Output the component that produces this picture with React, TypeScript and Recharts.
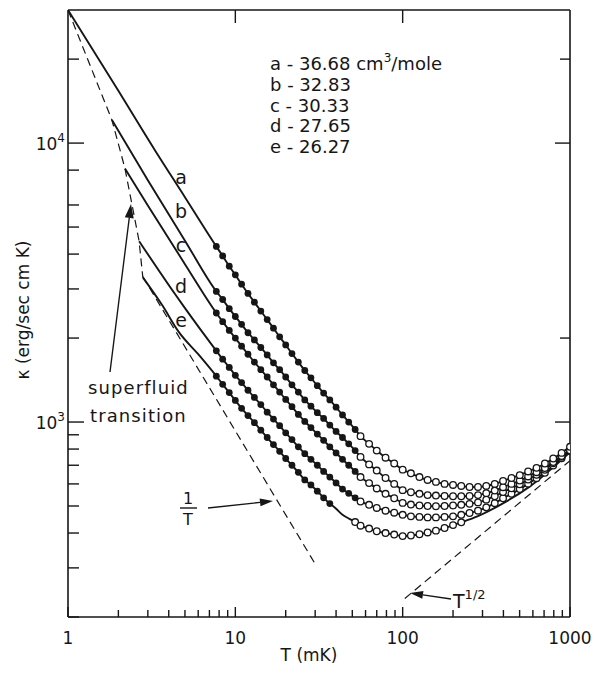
import React from "react";
import { ComposedChart, Line, XAxis, YAxis } from "recharts";

// temperature grids (mK) where the measured points sit
const filledT = [7.7, 8.4, 9.2, 10, 10.9, 11.9, 13, 14.2, 15.5, 16.9, 18.4, 20, 21.8, 23.8, 26, 28.3, 30.9, 33.7, 36.7, 40, 43.7, 47.6, 52];
const openT = [56, 63, 70, 79, 89, 100, 112, 126, 141, 158, 178, 200, 224, 251, 282, 316, 355, 398, 447, 501, 562, 631, 708, 794, 891, 1000];

// curve a - 36.68 cm3/mole
const aLine = [[1, 30000], [2, 15400], [3.3, 9450], [5, 6400]];
const aFilled = [4260, 3940, 3620, 3370, 3120, 2890, 2690, 2500, 2330, 2170, 2020, 1890, 1760, 1640, 1530, 1440, 1350, 1270, 1200, 1130, 1060, 1000, 940];
const aOpen = [890, 835, 790, 745, 710, 675, 655, 635, 620, 610, 600, 595, 590, 585, 585, 590, 600, 615, 630, 645, 665, 685, 710, 740, 775, 815];

// curve b - 32.83
const bLine = [[1.83, 12100], [3, 7360], [5, 4470]];
const bFilled = [2940, 2750, 2550, 2390, 2240, 2090, 1970, 1850, 1740, 1630, 1540, 1450, 1360, 1280, 1200, 1140, 1080, 1030, 975, 925, 880, 835, 790];
const bOpen = [750, 705, 670, 630, 600, 570, 560, 553, 547, 545, 543, 542, 542, 543, 547, 556, 568, 584, 600, 617, 638, 661, 684, 719, 755, 792];

// curve c - 30.33
const cLine = [[2.19, 8110], [3, 5980], [5, 3680]];
const cFilled = [2460, 2290, 2130, 2000, 1870, 1750, 1640, 1540, 1450, 1360, 1280, 1205, 1135, 1065, 1005, 955, 905, 860, 815, 775, 735, 700, 665];
const cOpen = [635, 604, 578, 553, 533, 513, 506, 502, 500, 499, 500, 502, 505, 509, 515, 527, 542, 561, 579, 598, 622, 647, 674, 711, 751, 792];

// curve d - 27.65
const dLine = [[2.66, 4450], [4.37, 2870], [5, 2560]];
const dFilled = [1800, 1680, 1570, 1470, 1385, 1300, 1225, 1155, 1085, 1025, 970, 915, 865, 815, 770, 735, 700, 665, 635, 605, 575, 555, 535];
const dOpen = [519, 505, 492, 481, 473, 465, 459, 457, 455, 455, 457, 459, 465, 472, 481, 494, 512, 533, 553, 575, 601, 629, 658, 698, 741, 787];

// curve e - 26.27
const eLine = [[2.8, 3300], [3.66, 2620], [4.6, 2100], [6, 1750]];
const eFilled = [1460, 1365, 1275, 1195, 1120, 1055, 995, 935, 880, 830, 785, 740, 700, 660, 620, 595, 565, 535, 510];
const eMid = [[40, 489], [43.7, 465], [47.6, 451]];
const eOpenT = [52, 56, 63, 70, 79, 89, 100, 112, 126, 141, 158, 178, 200, 224];
const eOpen = [438, 425, 415, 406, 400, 395, 390, 392, 396, 402, 408, 417, 427, 437];
const eTail = [[282, 460], [400, 512], [562, 582], [1000, 780]];

// dashed guide lines
const sfLine = [[1, 30000], [1.83, 12100], [2.19, 8110], [2.66, 4450], [2.8, 3300]];
const invLine = [[2.8, 3320], [30, 310]];
const sqrtLine = [[103, 233], [1000, 727]];

const xTicks = [1, 2, 3, 4, 5, 6, 7, 8, 9, 10, 20, 30, 40, 50, 60, 70, 80, 90, 100, 200, 300, 400, 500, 600, 700, 800, 900, 1000];
const yTicks = [200, 300, 400, 500, 600, 700, 800, 900, 1000, 2000, 3000, 4000, 5000, 6000, 8000, 10000, 20000];
const rightTicks = [1000, 2000, 10000, 20000];
const topTicks = [10, 100];
const xMajor = [1, 10, 100, 1000];
const yMajor = [1000, 10000];

const legend = ["a - 36.68 cm", "b - 32.83", "c - 30.33", "d - 27.65", "e - 26.27"];

const FONT = "DejaVu Sans";
const INK = "#161616";
const W = 598;
const H = 674;
const X_DOM = [1, 1000];
const Y_DOM = [200, 30000];
// plot box (page px) that the chart margins below produce
const BOX = { left: 68, right: 570, top: 10, bottom: 617 };

// same log mapping as the axes, used only for the inward tick marks
const lg = Math.log10;
const px = (t: number) => BOX.left + ((BOX.right - BOX.left) * (lg(t) - lg(X_DOM[0]))) / (lg(X_DOM[1]) - lg(X_DOM[0]));
const py = (k: number) => BOX.top + ((BOX.bottom - BOX.top) * (lg(Y_DOM[1]) - lg(k))) / (lg(Y_DOM[1]) - lg(Y_DOM[0]));

const pairs = (p: number[][], m = "") => p.map(([t, k]) => ({ t, k, m }));
const onGrid = (vals: number[], grid: number[], m: string) => vals.map((k, i) => ({ t: grid[i], k, m }));

const curveA = [...pairs(aLine), ...onGrid(aFilled, filledT, "f"), ...onGrid(aOpen, openT, "o")];
const curveB = [...pairs(bLine), ...onGrid(bFilled, filledT, "f"), ...onGrid(bOpen, openT, "o")];
const curveC = [...pairs(cLine), ...onGrid(cFilled, filledT, "f"), ...onGrid(cOpen, openT, "o")];
const curveD = [...pairs(dLine), ...onGrid(dFilled, filledT, "f"), ...onGrid(dOpen, openT, "o")];
const curveE = [...pairs(eLine), ...onGrid(eFilled, filledT, "f"), ...pairs(eMid), ...onGrid(eOpen, eOpenT, "o"), ...pairs(eTail)];

const Dot = (p: any) => {
  const m = p.payload && p.payload.m;
  if (m === "f") return <circle key={p.index} cx={p.cx} cy={p.cy} r={3.4} fill={INK} />;
  if (m === "o") return <circle key={p.index} cx={p.cx} cy={p.cy} r={3.3} fill="#fff" stroke={INK} strokeWidth={1.3} />;
  return <g key={p.index} />;
};

const BottomLabel = (p: any) => {
  const v = p.payload.value;
  if (!xMajor.includes(v)) return <g />;
  return (
    <text x={p.x} y={p.y + 27} textAnchor="middle" fontSize={17} fontFamily={FONT} fill={INK}>
      {v}
    </text>
  );
};

const LeftLabel = (p: any) => {
  const v = p.payload.value;
  if (!yMajor.includes(v)) return <g />;
  return (
    <text x={p.x - 3} y={p.y + 7} textAnchor="end" fontSize={17} fontFamily={FONT} fill={INK}>
      10
      <tspan dy={-8} fontSize={12}>{v === 1000 ? "3" : "4"}</tspan>
    </text>
  );
};

const Arrow = ({ x1, y1, x2, y2, len = 13, half = 4 }: any) => {
  const dx = x2 - x1;
  const dy = y2 - y1;
  const d = Math.hypot(dx, dy);
  const ux = dx / d;
  const uy = dy / d;
  const bx = x2 - ux * len;
  const by = y2 - uy * len;
  const pts = `${x2},${y2} ${bx - uy * half},${by + ux * half} ${bx + uy * half},${by - ux * half}`;
  return (
    <g>
      <line x1={x1} y1={y1} x2={bx} y2={by} stroke={INK} strokeWidth={1.4} />
      <polygon points={pts} fill={INK} />
    </g>
  );
};

const solid = { stroke: INK, strokeWidth: 1.9, isAnimationActive: false, xAxisId: "b", yAxisId: "l", dataKey: "k" };
const dashed = { ...solid, strokeWidth: 1.2, strokeDasharray: "8 5", dot: false, type: "linear" as const };
const layer: React.CSSProperties = { position: "absolute", left: 0, top: 0 };

export default function App() {
  return (
    <div style={{ position: "absolute", left: 0, top: 0, width: W, height: H, background: "#fff" }}>
      <div style={layer}>
        <ComposedChart width={W} height={H} margin={{ top: 9, right: 27, bottom: 17, left: 8 }}>
          <XAxis xAxisId="b" dataKey="t" type="number" scale="log" domain={X_DOM} ticks={xTicks} interval={0}
            tick={BottomLabel} tickLine={false} tickSize={0} tickMargin={0} height={40} allowDataOverflow
            stroke={INK} strokeWidth={1.6} />
          <XAxis xAxisId="t" orientation="top" dataKey="t" type="number" scale="log" domain={X_DOM} ticks={topTicks}
            interval={0} tick={false} tickLine={false} height={1} allowDataOverflow stroke={INK} strokeWidth={1.6} />
          <YAxis yAxisId="l" type="number" scale="log" domain={Y_DOM} ticks={yTicks} interval={0}
            tick={LeftLabel} tickLine={false} tickSize={0} tickMargin={0} width={60} allowDataOverflow
            stroke={INK} strokeWidth={1.6} />
          <YAxis yAxisId="r" orientation="right" type="number" scale="log" domain={Y_DOM} ticks={rightTicks}
            interval={0} tick={false} tickLine={false} width={1} allowDataOverflow stroke={INK} strokeWidth={1.6} />

          <Line {...dashed} data={pairs(sfLine)} />
          <Line {...dashed} data={pairs(invLine)} />
          <Line {...dashed} data={pairs(sqrtLine)} />
          <Line {...solid} type="monotone" data={curveE} dot={Dot} />
          <Line {...solid} type="monotone" data={curveD} dot={Dot} />
          <Line {...solid} type="monotone" data={curveC} dot={Dot} />
          <Line {...solid} type="monotone" data={curveB} dot={Dot} />
          <Line {...solid} type="monotone" data={curveA} dot={Dot} />
        </ComposedChart>
      </div>

      {/* inward tick marks and annotations */}
      <svg width={W} height={H} style={{ ...layer, pointerEvents: "none" }} fontFamily={FONT} fill={INK}>
        <g stroke={INK} strokeWidth={1.4}>
          {xTicks.map((v) => (
            <line key={`b${v}`} x1={px(v)} x2={px(v)} y1={BOX.bottom} y2={BOX.bottom - (xMajor.includes(v) ? 10 : 7)} />
          ))}
          {yTicks.map((v) => (
            <line key={`l${v}`} x1={BOX.left} x2={BOX.left + (yMajor.includes(v) ? 16 : 11)} y1={py(v)} y2={py(v)} />
          ))}
          {rightTicks.map((v) => (
            <line key={`r${v}`} x1={BOX.right} x2={BOX.right - (yMajor.includes(v) ? 15 : 10)} y1={py(v)} y2={py(v)} />
          ))}
          {topTicks.map((v) => (
            <line key={`t${v}`} x1={px(v)} x2={px(v)} y1={BOX.top} y2={BOX.top + 13} />
          ))}
        </g>

        {legend.map((s, i) => (
          <text key={s} x={270} y={70 + i * 20.8} fontSize={18}>
            {s}
            {i === 0 && (
              <>
                <tspan dy={-8} fontSize={12}>3</tspan>
                <tspan dy={8}>/mole</tspan>
              </>
            )}
          </text>
        ))}

        {["a", "b", "c", "d", "e"].map((s, i) => (
          <text key={s} x={181} y={[184, 218, 252, 293, 327][i]} fontSize={19} textAnchor="middle">{s}</text>
        ))}

        <text x={88} y={394} fontSize={18} letterSpacing={1.1}>superfluid</text>
        <text x={90} y={422} fontSize={18} letterSpacing={1.1}>transition</text>
        <Arrow x1={110} y1={372} x2={131} y2={204} len={14} half={4.5} />

        <text x={188} y={504} fontSize={16} textAnchor="middle">1</text>
        <line x1={180} x2={197} y1={508} y2={508} stroke={INK} strokeWidth={1.4} />
        <text x={188} y={525} fontSize={16} textAnchor="middle">T</text>
        <Arrow x1={208} y1={508} x2={273} y2={501} len={13} half={4} />

        <text x={453} y={608} fontSize={19}>
          T<tspan dy={-9} fontSize={13}>1/2</tspan>
        </text>
        <Arrow x1={451} y1={599} x2={410} y2={593} len={13} half={4} />

        <text transform="translate(29,310) rotate(-90)" fontSize={17} textAnchor="middle">κ (erg/sec cm K)</text>
        <text x={309} y={661} fontSize={17} textAnchor="middle">T (mK)</text>
      </svg>
    </div>
  );
}
